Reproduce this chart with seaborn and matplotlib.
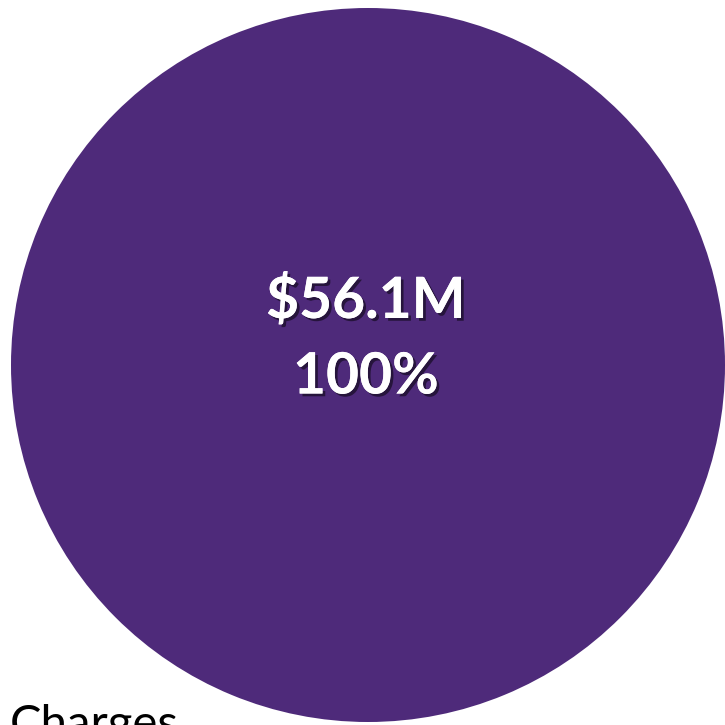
import matplotlib
matplotlib.use("Agg")
import matplotlib.pyplot as plt
import matplotlib.patheffects as pe
import seaborn as sns

sns.set_theme(style="white")
plt.rcParams['font.family'] = ['Lato', 'DejaVu Sans']

# data
labels = ["Charges"]
values = [56.1]
shares = ["100%"]
colors = ["#4E2A7A"]

fig = plt.figure(figsize=(7.25, 7.25), dpi=100)
ax = fig.add_axes([0, 0, 1, 1])
ax.set_xlim(0, 725)
ax.set_ylim(725, 0)
ax.set_aspect("equal")
ax.axis("off")

ax.pie(values, colors=colors, radius=357, center=(368, 365),
       startangle=90, counterclock=False, frame=True,
       wedgeprops=dict(linewidth=0))
ax.set_xlim(0, 725)
ax.set_ylim(725, 0)
ax.axis("off")

shadow = [pe.withSimplePatchShadow(offset=(2, -2), shadow_rgbFace="black", alpha=0.5), pe.Normal()]
ax.text(366, 301, "$%.1fM" % values[0], color="white", fontsize=41, fontweight="bold",
        ha="center", va="center", path_effects=shadow)
ax.text(366, 377, shares[0], color="white", fontsize=41, fontweight="bold",
        ha="center", va="center", path_effects=shadow)

ax.text(10, 704, labels[0], color="black", fontsize=34, ha="left", va="top")

fig.savefig("out.png", dpi=100)
